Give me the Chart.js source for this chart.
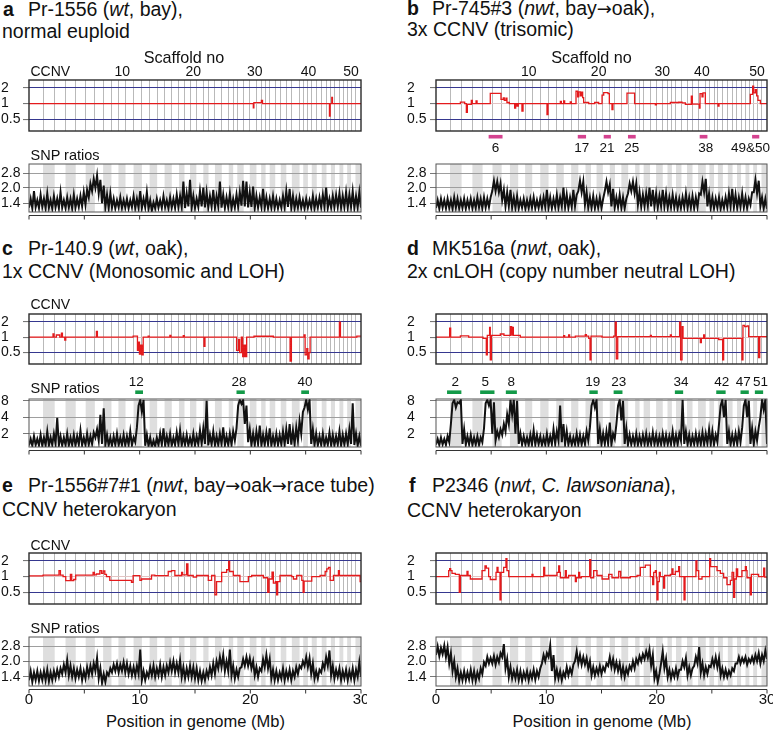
<!DOCTYPE html>
<html>
<head>
<meta charset="utf-8">
<script src="https://cdn.jsdelivr.net/npm/chart.js@4.4.1/dist/chart.umd.min.js"></script>
<style>
html, body { margin: 0; padding: 0; background: #fff; }
body { width: 778px; height: 731px; position: relative; overflow: hidden;
       font-family: "Liberation Sans", Arial, sans-serif; color: #111; }
canvas { position: absolute; }
.t { position: absolute; line-height: 1; white-space: nowrap; }
.ar { font-family: "DejaVu Sans", sans-serif; font-size: 0.92em; }
</style>
</head>
<body>
<script>
// scaffold ends along the genome (Mb), scaffolds 1..52
const scaffoldEnds = [1.27, 2.32, 3.30, 4.22, 5.12, 5.95, 6.70, 7.45, 8.08, 8.72,
  9.45, 10.20, 10.90, 11.58, 12.25, 12.90, 13.55, 14.05, 14.55, 15.12,
  15.75, 16.22, 16.80, 17.42, 18.05, 18.45, 18.82, 19.40, 19.95, 20.55,
  20.98, 21.38, 21.75, 22.25, 22.75, 23.25, 23.75, 24.45, 24.78, 25.20,
  25.55, 26.00, 26.45, 26.88, 27.28, 27.65, 28.05, 28.40, 28.75, 29.10,
  29.50, 30.00];

const scaffoldNums = [10, 20, 30, 40, 50];
const scaffoldNumPosA = [8.43, 14.84, 20.4, 25.25, 29.1];
const scaffoldNumPosB = [8.4, 14.74, 20.5, 24.1, 29.1];

const ccnvTicks = [0.5, 1, 2];
const ccnvTickLabels = ['0.5', '1', '2'];
const snpTicks = [1.4, 2.0, 2.8];
const snpTickLabels = ['1.4', '2.0', '2.8'];
const lohTicks = [2, 4, 8];
const lohTickLabels = ['2', '4', '8'];

// CCNV step traces: segment start (Mb) and ratio
const ccnvA_x = [0, 20.27, 20.32, 21.0, 21.1, 27.15, 27.21, 27.36, 27.42, 30];
const ccnvA_y = [1, 0.83, 1.04, 1.15, 1, 0.58, 1, 1.32, 1, 1];

const ccnvB_x = [0, 2.21, 2.6, 2.75, 2.84, 3.2, 3.29, 3.63, 3.72, 4.92, 5.89, 6.1, 6.19, 6.34, 6.43, 6.65, 7.13, 7.22, 7.34, 7.46,
  7.79, 7.89, 10.06, 10.15, 11.27, 11.36, 11.57, 11.66, 12.17, 12.27, 12.69, 12.84, 12.93, 13.08, 13.17, 13.29, 13.38, 13.84, 14.38, 14.74,
  15.05, 15.2, 15.59, 15.71, 15.95, 16.04, 17.31, 18.0, 19.88, 19.97, 21.24, 21.99, 22.3, 22.6, 23.14, 23.23, 23.87, 23.93, 24.11, 24.2,
  24.41, 25.56, 25.65, 28.49, 28.7, 28.79, 28.94, 29.06, 29.18, 29.4, 30];
const ccnvB_y = [1, 1.07, 1.0, 0.68, 0.97, 1.15, 1.0, 1.13, 1.0, 1.57, 1.2, 1.28, 1.15, 1.27, 1.05, 1.0, 0.82, 1.0, 0.9, 1.0,
  0.72, 1.0, 0.62, 1.0, 1.1, 1.0, 1.12, 1.0, 1.08, 1.0, 1.72, 1.35, 1.68, 1.4, 1.65, 1.3, 1.05, 1.0, 1.05, 1.0,
  1.45, 1.62, 1.55, 1.0, 0.77, 1.0, 1.58, 1.0, 0.95, 1.0, 1.05, 1.06, 1.03, 0.97, 1.38, 0.98, 0.82, 1.55, 1.35, 1.6,
  1.0, 0.9, 1.0, 1.5, 2.15, 1.6, 1.85, 1.4, 1.15, 1.0, 1.0];

const ccnvC_x = [0, 2.17, 2.26, 2.47, 2.78, 2.93, 3.02, 3.23, 3.32, 6.09, 6.18, 9.41, 9.8, 9.89, 9.98, 10.1, 10.2, 10.32, 10.77, 10.86,
  12.73, 12.82, 13.94, 14.03, 15.81, 15.9, 18.76, 18.94, 19.03, 19.19, 19.31, 19.43, 19.55, 19.67, 20.33, 22.08, 23.59, 23.71, 24.86, 24.95,
  25.1, 25.19, 25.31, 25.4, 28.05, 28.14, 29.62, 30];
const ccnvC_y = [1, 1.15, 1.0, 1.1, 1.0, 1.2, 1.0, 0.88, 1.0, 1.3, 1.0, 1.05, 0.55, 0.8, 0.47, 0.7, 0.45, 1.0, 1.05, 1.0,
  1.08, 1.0, 1.07, 1.0, 0.66, 1.0, 0.55, 0.9, 0.5, 1.0, 0.42, 0.7, 0.42, 1.0, 1.04, 1.0, 0.34, 1.0, 1.1, 0.45,
  0.6, 0.38, 0.5, 1.0, 1.95, 1.0, 1.05, 1.05];

const ccnvD_x = [0, 1.24, 1.33, 2.21, 2.96, 4.26, 4.56, 4.65, 4.86, 4.92, 5.02, 5.83, 5.98, 6.16, 6.74, 6.86, 6.92, 7.01, 7.64, 11.57,
  11.66, 12.02, 12.11, 12.63, 13.53, 13.63, 13.84, 13.96, 14.05, 15.05, 16.1, 16.25, 16.34, 16.47, 19.43, 19.52, 21.24, 21.33, 22.08, 22.17,
  22.3, 22.39, 23.96, 24.05, 24.26, 24.35, 25.62, 25.98, 26.07, 27.73, 27.82, 27.98, 28.19, 28.34, 29.24, 29.34, 30];
const ccnvD_y = [1, 1.5, 1.0, 1.06, 1.0, 0.95, 0.45, 1.08, 1.55, 0.36, 1.08, 1.15, 1.15, 1.08, 1.6, 1.1, 1.55, 1.08, 1.0, 1.07,
  1.0, 1.1, 1.0, 1.05, 1.12, 1.05, 0.95, 0.36, 1.05, 1.0, 1.05, 1.95, 0.38, 1.02, 1.08, 1.02, 1.1, 1.02, 1.95, 0.36,
  1.6, 0.95, 0.78, 0.95, 1.1, 0.95, 0.9, 0.36, 0.95, 0.36, 1.7, 1.6, 1.65, 1.02, 0.4, 1.02, 1.02];

const ccnvE_x = [0, 1.27, 2.71, 2.84, 3.08, 3.32, 3.74, 3.86, 4.04, 4.22, 5.79, 5.91, 6.09, 6.4, 6.55, 6.7, 6.85, 7.0, 7.3, 9.26,
  9.41, 10.02, 10.17, 11.07, 11.37, 12.58, 12.88, 13.18, 13.79, 13.88, 14.24, 14.36, 14.84, 15.14, 16.2, 16.5, 16.8, 16.95, 17.41, 17.86,
  18.04, 18.13, 18.46, 19.06, 19.82, 20.12, 21.18, 21.57, 21.69, 21.96, 22.08, 22.26, 22.38, 22.47, 22.68, 23.74, 23.89, 24.19, 24.65, 24.77,
  24.86, 25.55, 26.3, 26.76, 26.91, 27.06, 27.21, 27.51, 27.96, 28.05, 29.92, 30];
const ccnvE_y = [1.03, 1.07, 1.3, 1.07, 1.0, 0.84, 1.1, 0.84, 0.88, 1.07, 1.2, 1.08, 1.12, 1.3, 1.15, 1.28, 1.1, 1.0, 0.85, 0.78,
  1.04, 0.85, 0.9, 1.07, 1.04, 1.25, 1.3, 1.05, 1.2, 1.08, 1.75, 1.05, 0.98, 1.05, 0.85, 1.05, 0.45, 0.8, 1.2, 1.35,
  1.95, 1.25, 1.05, 0.8, 1.0, 1.05, 0.95, 0.5, 0.9, 1.22, 0.75, 0.8, 0.45, 0.8, 1.05, 1.0, 0.9, 1.05, 0.85, 0.5,
  0.82, 1.0, 1.05, 1.25, 1.4, 1.5, 0.85, 1.05, 1.3, 1.05, 0.8, 0.8];

const ccnvF_x = [0, 1.15, 1.24, 1.33, 1.45, 1.75, 2.11, 2.21, 2.81, 2.9, 3.11, 4.17, 4.44, 4.56, 4.77, 4.92, 5.44, 5.53, 5.62, 5.8,
  5.89, 6.13, 6.34, 6.43, 6.59, 8.7, 8.79, 9.76, 9.85, 10.97, 11.12, 11.21, 11.27, 11.72, 11.81, 12.02, 12.63, 12.72, 12.93, 13.02,
  13.17, 13.93, 14.02, 14.29, 14.59, 15.05, 15.65, 15.95, 16.56, 16.74, 17.61, 18.22, 18.52, 18.97, 19.43, 19.64, 19.73, 19.88, 19.97, 20.03,
  20.12, 20.24, 20.33, 20.63, 20.72, 21.24, 21.39, 21.48, 21.69, 21.99, 22.08, 22.48, 22.57, 23.56, 23.65, 23.81, 24.11, 24.8, 24.89, 25.47,
  25.77, 26.07, 26.37, 26.68, 26.83, 26.98, 27.07, 27.22, 27.34, 27.73, 28.04, 28.13, 28.19, 28.49, 28.58, 29.24, 29.7, 29.79, 30];
const ccnvF_y = [1.0, 1.3, 1.42, 1.3, 1.15, 1.1, 0.5, 1.05, 1.25, 1.05, 0.9, 1.3, 1.6, 1.45, 1.0, 0.88, 1.2, 1.5, 1.2, 0.36,
  1.2, 1.5, 2.2, 1.3, 1.0, 1.1, 1.0, 1.5, 1.05, 1.2, 1.6, 1.2, 0.95, 1.3, 0.95, 1.05, 0.8, 0.95, 1.2, 0.95,
  1.0, 2.1, 0.95, 1.3, 1.05, 0.9, 1.1, 0.95, 1.25, 0.95, 1.0, 1.05, 1.5, 1.65, 1.0, 0.7, 1.2, 1.3, 0.95, 0.36,
  0.8, 1.2, 1.0, 0.6, 1.05, 1.1, 1.4, 1.1, 1.25, 1.55, 1.0, 0.36, 1.0, 2.0, 1.3, 0.9, 1.0, 2.2, 1.55, 1.3,
  1.15, 0.95, 0.7, 0.85, 1.2, 0.4, 0.9, 1.4, 1.0, 1.3, 1.55, 1.3, 0.95, 0.45, 1.1, 1.0, 1.45, 0.98, 0.98];

// SNP ratio traces, lower and upper edge of the noisy band, one pair every 0.3 Mb
const snpStep = 0.3;
const snpA_lo = [1.26,1.24,1.27,1.25,1.28,1.25,1.26,1.24,1.27,1.25,
  1.26,1.25,1.27,1.24,1.26,1.28,1.3,1.35,1.6,1.85,
  2.0,1.75,1.4,1.27,1.25,1.26,1.24,1.27,1.25,1.26,
  1.24,1.27,1.25,1.26,1.25,1.27,1.22,1.18,1.24,1.26,
  1.25,1.27,1.24,1.26,1.25,1.27,1.28,1.25,1.3,1.26,
  1.25,1.28,1.3,1.27,1.26,1.28,1.25,1.3,1.26,1.25,
  1.27,1.24,1.26,1.28,1.32,1.3,1.27,1.28,1.25,1.26,
  1.28,1.25,1.24,1.26,1.25,1.24,1.26,1.27,1.28,1.25,
  1.24,1.26,1.25,1.24,1.26,1.25,1.24,1.26,1.27,1.28,
  1.25,1.26,1.27,1.28,1.26,1.27,1.26,1.28,1.25,1.27,1.26];
const snpA_hi = [1.55,1.85,1.5,1.7,1.55,1.75,1.5,1.65,1.55,1.8,
  1.5,1.6,1.55,1.7,1.55,1.65,1.8,1.9,2.2,2.45,
  2.65,2.4,2.1,1.7,1.75,1.55,1.5,1.6,1.5,1.55,
  1.5,1.65,1.55,1.85,1.55,1.8,1.5,1.42,1.55,1.5,
  1.65,1.5,1.6,1.55,1.7,1.65,2.3,1.75,2.4,1.65,
  1.55,1.85,2.0,1.8,1.65,1.9,1.65,2.3,1.7,1.6,
  1.75,1.55,1.7,1.8,2.35,2.3,1.8,2.05,1.65,1.6,
  1.95,1.6,1.55,1.65,1.55,1.5,1.65,1.85,1.95,1.65,
  1.55,1.6,1.5,1.55,1.5,1.65,1.55,1.6,1.7,2.0,
  1.55,1.65,1.7,1.75,1.65,1.8,1.7,1.85,1.65,1.8,1.6];

const snpB_lo = [1.25,1.23,1.26,1.24,1.25,1.23,1.26,1.24,1.25,1.23,
  1.26,1.24,1.25,1.27,1.24,1.26,1.28,1.85,1.85,1.8,
  1.5,1.3,1.3,1.26,1.25,1.24,1.26,1.23,1.25,1.26,
  1.24,1.25,1.26,1.28,1.25,1.24,1.27,1.26,1.3,1.27,
  1.25,1.28,1.3,1.85,1.8,1.35,1.26,1.25,1.24,1.26,
  1.25,1.85,1.8,1.3,1.26,1.27,1.25,1.24,1.75,1.85,
  1.75,1.35,1.28,1.3,1.32,1.3,1.28,1.26,1.3,1.28,
  1.25,1.27,1.26,1.24,1.25,1.27,1.25,1.26,1.24,1.27,
  1.7,1.8,1.3,1.25,1.24,1.26,1.23,1.25,1.27,1.3,
  1.27,1.25,1.28,1.26,1.25,1.35,1.8,1.75,1.3,1.24,1.23];
const snpB_hi = [1.5,1.55,1.5,1.55,1.5,1.6,1.55,1.5,1.55,1.5,
  1.55,1.5,1.6,1.55,1.6,1.55,1.6,2.35,2.3,2.2,
  1.9,1.8,1.9,1.6,1.65,1.5,1.55,1.5,1.55,1.6,
  1.5,1.55,1.6,1.9,1.6,1.55,1.7,1.6,2.0,1.7,
  1.6,1.9,1.7,2.35,2.3,1.8,1.6,1.65,1.55,1.6,
  1.55,2.3,2.15,1.95,1.6,1.7,1.6,1.55,2.2,2.3,
  2.2,1.8,1.7,1.75,2.0,1.9,1.75,1.65,1.9,1.75,
  1.6,1.7,1.6,1.55,1.6,1.75,1.6,1.65,1.6,1.75,
  2.3,2.45,1.75,1.6,1.55,1.6,1.5,1.6,1.75,1.95,
  1.7,1.6,1.75,1.6,1.55,1.8,2.4,2.35,1.6,1.55,1.5];

const snpC_lo = [1.22,1.2,1.24,1.22,1.2,1.23,1.22,1.25,1.3,1.22,
  1.2,1.23,1.22,1.24,1.21,1.25,1.22,1.24,1.26,1.3,
  1.7,1.5,1.3,1.24,1.22,1.2,1.23,1.22,1.24,1.21,
  1.23,1.22,1.4,6.5,5.0,1.2,1.18,1.14,1.18,1.22,
  1.24,1.22,1.25,1.21,1.23,1.26,1.22,1.24,1.21,1.25,
  1.22,1.26,1.28,1.3,1.22,1.25,1.22,1.24,1.28,1.22,
  1.24,1.26,1.5,6.5,7.0,3.0,1.4,1.24,1.25,1.28,
  1.22,1.25,1.27,1.22,1.24,1.23,1.26,1.27,1.3,1.26,
  1.28,1.5,2.0,6.0,5.5,1.3,1.24,1.22,1.24,1.21,
  1.25,1.22,1.21,1.25,1.22,1.24,1.26,1.3,1.24,1.22,1.2];
const snpC_hi = [1.6,1.8,1.6,1.9,1.7,2.2,1.7,2.0,3.9,1.8,
  1.7,2.0,1.7,1.9,1.8,2.3,1.7,2.0,1.8,2.1,
  2.4,4.4,5.8,1.9,1.7,1.8,2.0,1.7,1.9,1.8,
  2.2,1.7,2.6,8.3,8.3,1.9,1.7,1.5,1.7,2.0,
  2.5,1.8,2.0,1.7,2.1,2.3,1.8,1.9,1.7,2.0,
  1.8,2.3,2.5,8.0,1.9,2.2,1.8,2.0,2.6,1.8,
  2.0,2.2,2.5,8.3,8.3,6.5,2.4,2.0,2.2,2.8,
  1.9,2.1,2.5,1.8,2.0,1.9,2.2,2.4,3.0,2.3,
  2.6,3.4,5.0,8.3,8.3,2.4,2.0,1.8,2.0,1.7,
  2.1,1.9,1.8,2.2,1.9,2.0,2.4,7.2,2.0,1.8,1.6];

const snpD_lo = [1.26,1.24,1.27,1.25,1.4,7.2,6.0,7.2,1.3,1.25,
  1.27,1.24,1.26,1.25,1.4,7.2,6.5,2.0,1.5,1.7,
  1.9,2.2,3.0,4.5,2.0,1.3,1.25,1.27,1.24,1.26,
  1.25,1.27,1.24,1.26,1.25,1.28,1.3,1.5,1.4,1.27,
  1.25,1.24,1.27,1.26,1.25,1.28,1.5,6.5,6.0,1.3,
  1.27,1.28,1.3,1.26,1.6,6.5,3.5,1.3,1.25,1.26,
  1.27,1.25,1.26,1.28,1.25,1.27,1.26,1.24,1.27,1.25,
  1.26,1.28,1.25,1.27,1.5,1.3,1.26,1.25,1.27,1.26,
  1.28,1.27,1.3,1.28,1.26,1.4,6.5,4.0,1.3,1.26,
  1.27,1.28,1.4,6.5,4.0,1.3,1.27,1.5,4.0,5.5,1.3];
const snpD_hi = [1.6,1.7,1.6,1.8,3.0,8.3,7.5,8.3,2.4,1.8,
  1.9,1.7,1.8,1.7,2.5,8.3,8.3,7.5,2.2,2.4,
  3.0,4.5,8.3,8.3,8.0,2.0,1.8,1.7,1.9,2.3,
  1.9,1.8,1.7,2.0,1.8,2.4,2.2,6.5,3.0,2.2,
  1.8,1.7,2.0,1.9,1.8,2.2,2.6,8.3,8.3,2.4,
  2.0,2.2,3.2,2.0,3.0,8.3,8.0,2.5,1.9,1.8,
  2.0,1.8,1.9,2.0,1.8,2.1,1.9,1.8,2.0,1.9,
  1.8,2.2,1.9,2.0,8.3,2.2,1.9,1.8,2.0,1.9,
  2.1,2.0,2.4,2.2,1.9,3.0,8.3,8.3,2.2,1.9,
  2.0,2.2,2.6,8.3,8.0,2.5,2.2,2.6,8.3,8.3,1.8];

const snpE_lo = [1.3,1.25,1.3,1.28,1.3,1.3,1.27,1.3,1.35,1.4,
  1.5,1.55,1.45,1.4,1.35,1.4,1.3,1.35,1.45,1.5,
  1.6,1.35,1.22,1.25,1.45,1.55,1.6,1.55,1.6,1.55,
  1.5,1.45,1.45,1.5,1.3,1.3,1.4,1.45,1.4,1.45,
  1.4,1.45,1.55,1.6,1.55,1.55,1.4,1.35,1.4,1.4,
  1.35,1.3,1.28,1.3,1.4,1.45,1.5,1.7,1.75,1.6,
  1.6,1.45,1.35,1.4,1.75,1.8,1.8,1.7,1.45,1.4,
  1.6,1.75,1.7,1.35,1.3,1.3,1.35,1.3,1.35,1.3,
  1.4,1.5,1.7,1.8,1.75,1.5,1.35,1.35,1.55,1.7,
  1.8,1.45,1.35,1.4,1.3,1.35,1.3,1.35,1.3,1.4,1.4];
const snpE_hi = [1.6,1.55,1.6,1.55,1.6,1.65,1.55,1.6,1.65,1.7,
  1.85,2.05,1.8,1.7,1.65,1.7,1.6,1.75,1.8,1.9,
  2.15,1.7,1.5,1.55,1.7,1.85,1.9,1.85,1.95,1.9,
  1.8,1.75,1.8,2.6,1.6,1.55,1.75,1.8,1.7,1.85,
  1.75,1.8,1.95,2.0,1.9,2.05,1.75,1.7,1.8,1.75,
  1.7,1.6,1.55,1.6,1.75,1.9,2.0,2.2,2.3,2.0,
  2.6,1.8,1.65,1.7,2.1,2.2,2.15,2.0,1.75,1.7,
  2.1,2.3,2.1,1.65,1.6,1.55,1.7,1.6,1.65,1.6,
  1.75,1.8,2.0,2.2,2.15,1.9,1.6,1.65,1.9,2.2,
  2.55,1.8,1.65,1.7,1.6,1.65,1.6,1.7,1.65,1.95,1.7];

const snpF_lo = [2.3,2.25,2.35,2.2,1.9,1.6,1.4,1.28,1.3,1.3,
  1.32,1.3,1.28,1.35,1.5,1.8,1.9,1.9,1.85,1.95,
  2.2,1.7,1.4,1.35,1.35,1.3,1.28,1.35,1.3,1.35,
  1.32,1.4,1.9,2.0,2.2,1.6,1.35,1.35,1.3,1.4,
  1.45,1.5,2.0,1.9,1.85,1.85,1.7,1.45,1.45,1.5,
  1.5,1.6,1.8,1.75,1.65,1.6,1.45,1.4,1.5,1.65,
  1.7,1.9,2.0,2.1,2.15,1.8,1.35,1.25,1.9,1.7,
  1.4,1.35,1.4,1.4,1.65,1.75,1.45,1.45,1.8,1.9,
  1.55,1.45,1.5,1.75,1.8,1.75,1.45,1.4,1.4,1.45,
  1.6,1.9,1.9,1.95,1.85,1.95,1.95,2.0,1.9,2.0,2.1];
const snpF_hi = [2.8,2.7,2.85,2.75,2.4,2.0,1.7,1.55,1.6,1.55,
  1.65,1.6,1.55,1.7,1.95,2.2,2.15,2.25,2.2,2.4,
  2.95,2.1,1.75,1.6,1.65,1.6,1.55,1.6,1.55,1.65,
  1.6,1.7,2.3,2.4,2.85,2.3,1.65,1.6,1.55,1.75,
  1.7,1.85,2.5,2.3,2.2,2.15,2.0,1.75,1.7,1.8,
  1.75,1.9,2.2,2.1,1.95,1.9,1.75,1.7,1.8,2.0,
  2.1,2.25,2.35,2.5,2.6,2.3,1.6,1.5,2.5,2.1,
  1.65,1.6,1.7,1.65,2.0,2.15,1.75,1.7,2.2,2.75,
  1.9,1.75,1.8,2.1,2.2,2.15,1.7,1.65,1.6,1.7,
  1.9,2.2,2.15,2.2,2.1,2.2,2.3,2.4,2.3,2.55,2.85];

// marked scaffolds (Mb ranges) and their labels
const pinkStart = [4.77, 12.85, 15.2, 17.4, 23.9, 28.65];
const pinkEnd = [6.03, 13.6, 15.85, 18.1, 24.6, 29.3];
const pinkLabel = ['6', '17', '21', '25', '38', '49&50'];
const pinkLabelX = [5.4, 13.22, 15.5, 17.75, 24.45, 28.5];

const greenC_start = [9.6, 18.75, 24.6];
const greenC_end = [10.3, 19.5, 25.3];
const greenC_label = ['12', '28', '40'];
const greenC_labelX = [9.7, 18.97, 24.95];

const greenD_start = [1.0, 4.0, 6.33, 13.9, 16.1, 21.65, 25.4, 27.6, 28.9];
const greenD_end = [2.3, 5.3, 7.33, 14.66, 16.9, 22.4, 26.25, 28.35, 29.65];
const greenD_label = ['2', '5', '8', '19', '23', '34', '42', '47', '51'];
const greenD_labelX = [1.75, 4.47, 6.83, 14.2, 16.56, 22.2, 25.9, 27.85, 29.42];

const FONT = '"Liberation Sans", Arial, sans-serif';
Chart.defaults.font.family = FONT;
Chart.defaults.font.size = 14;
Chart.defaults.color = '#111';

const extras = {
  id: 'extras',
  beforeDraw(chart, args, o) {
    if (!o.shade) return;
    const ctx = chart.ctx, a = chart.chartArea, x = chart.scales.x;
    ctx.save();
    ctx.fillStyle = '#dedede';
    for (let j = 1; j < scaffoldEnds.length; j += 2) {
      const p0 = x.getPixelForValue(scaffoldEnds[j - 1]);
      const p1 = x.getPixelForValue(scaffoldEnds[j]);
      ctx.fillRect(p0, a.top, p1 - p0, a.bottom - a.top);
    }
    ctx.restore();
  },
  afterDraw(chart, args, o) {
    const ctx = chart.ctx, a = chart.chartArea, x = chart.scales.x;
    ctx.save();
    ctx.strokeStyle = o.frameColor;
    ctx.lineWidth = o.frameWidth;
    ctx.strokeRect(a.left, a.top, a.right - a.left, a.bottom - a.top);
    if (o.axisGap) {
      // x axis line set a little below the plot box, ticks hanging from it
      const ya = Math.round(a.bottom + o.axisGap) + 0.5;
      ctx.strokeStyle = '#333';
      ctx.lineWidth = 1;
      ctx.beginPath();
      ctx.moveTo(x.getPixelForValue(0), ya);
      ctx.lineTo(x.getPixelForValue(30), ya);
      x.ticks.forEach(t => {
        const px = x.getPixelForValue(t.value);
        ctx.moveTo(px, ya);
        ctx.lineTo(px, ya + 4);
      });
      ctx.stroke();
    }
    ctx.fillStyle = '#111';
    ctx.textAlign = 'center';
    ctx.textBaseline = 'alphabetic';
    if (o.topPos) {
      ctx.font = '14px ' + FONT;
      for (let i = 0; i < scaffoldNums.length; i++) {
        ctx.fillText(String(scaffoldNums[i]), x.getPixelForValue(o.topPos[i]), a.top - 4);
      }
    }
    if (o.marks) {
      const m = o.marks;
      const yBar = m.below ? a.bottom + 5.7 : a.top - 6.8;
      const yTxt = m.below ? a.bottom + 20.7 : a.top - 12.6;
      ctx.font = '13.5px ' + FONT;
      for (let i = 0; i < m.start.length; i++) {
        const p0 = x.getPixelForValue(m.start[i]), p1 = x.getPixelForValue(m.end[i]);
        ctx.fillStyle = m.color;
        ctx.fillRect(p0, yBar - 1.8, p1 - p0, 3.6);
        ctx.fillStyle = '#111';
        ctx.fillText(m.label[i], x.getPixelForValue(m.labelX[i]), yTxt);
      }
    }
    ctx.restore();
  }
};

function makeCanvas(left, top, w, h) {
  const c = document.createElement('canvas');
  c.width = w; c.height = h;
  c.style.left = left + 'px'; c.style.top = top + 'px';
  c.style.width = w + 'px'; c.style.height = h + 'px';
  document.body.appendChild(c);
  return c;
}

const LEFT = { colX: 0, l: 29, r: 361 };
const RIGHT = { colX: 406, l: 436, r: 767 };

function track(col, t, b, padTop, padBottom, xAxisH, scales, datasets, extra) {
  const top = t - padTop;
  const w = col.r - col.colX + 6;
  const h = b - top + padBottom;
  const cv = makeCanvas(col.colX, top, w, h);
  scales.y.afterFit = s => { s.width = col.l - col.colX - 1; s.paddingTop = 0; s.paddingBottom = 0; };
  scales.x.afterFit = s => { s.height = xAxisH; s.paddingLeft = 0; s.paddingRight = 0; };
  return new Chart(cv, {
    type: 'line',
    data: { datasets: datasets },
    options: {
      responsive: false,
      animation: false,
      events: [],
      layout: { padding: { left: 1, right: 6, top: padTop, bottom: padBottom - xAxisH } },
      scales: scales,
      plugins: { legend: { display: false }, tooltip: { enabled: false }, extras: extra }
    },
    plugins: [extras]
  });
}

function ccnv(col, t, b, xs, ys, padTop, padBottom, extra) {
  const scales = {
    x: {
      type: 'linear', min: 0, max: 30,
      afterBuildTicks: s => { s.ticks = scaffoldEnds.slice(0, -1).map(v => ({ value: v })); },
      ticks: { display: false, autoSkip: false },
      grid: { color: '#b9b9b9', lineWidth: 1, drawTicks: false },
      border: { display: false }
    },
    y: {
      type: 'logarithmic', min: 0.34, max: 2.82,
      afterBuildTicks: s => { s.ticks = ccnvTicks.map(v => ({ value: v })); },
      ticks: { callback: (v, i) => ccnvTickLabels[i], crossAlign: 'far', padding: 0, autoSkip: false },
      grid: { color: c => (c.tick && c.tick.value === 1) ? '#e2c4c4' : '#35378f', lineWidth: 1.1, tickLength: 6, tickColor: '#777' },
      border: { display: false }
    }
  };
  const data = [{
    data: xs.map((x, i) => ({ x: x, y: ys[i] })),
    borderColor: '#e41a1c', borderWidth: 1.3, pointRadius: 0, stepped: true, fill: false
  }];
  return track(col, t, b, padTop, padBottom, 0, scales, data,
    Object.assign({ frameColor: '#2a2a2a', frameWidth: 1.4 }, extra));
}

function zigzag(lo, hi) {
  const pts = [];
  for (let i = 0; i < lo.length; i++) {
    pts.push({ x: i * snpStep, y: lo[i] });
    pts.push({ x: i * snpStep + snpStep / 2, y: hi[i] });
  }
  return pts;
}

function snp(col, t, b, lo, hi, loh, showX, padTop, extra) {
  const tk = loh ? lohTicks : snpTicks;
  const tl = loh ? lohTickLabels : snpTickLabels;
  const xAxisH = showX ? 24 : 8;
  const scales = {
    x: {
      type: 'linear', min: 0, max: 30,
      ticks: { stepSize: 5, autoSkip: false, maxRotation: 0, display: showX,
               callback: v => (v % 10 === 0 ? String(v) : ''), font: { size: 15 }, padding: -2 },
      grid: { display: false, drawOnChartArea: false, tickLength: 7 },
      border: { display: false }
    },
    y: {
      type: 'logarithmic', min: 1.14, max: loh ? 8.6 : 3.46,
      afterBuildTicks: s => { s.ticks = tk.map(v => ({ value: v })); },
      ticks: { callback: (v, i) => tl[i], crossAlign: 'far', padding: 0, autoSkip: false },
      grid: { color: '#9e9e9e', lineWidth: 1, tickLength: 6, tickColor: '#777' },
      border: { display: false }
    }
  };
  const data = [{
    data: zigzag(lo, hi),
    borderColor: '#111', borderWidth: 2.0, pointRadius: 0, tension: 0, fill: false
  }];
  return track(col, t, b, padTop, xAxisH + 2, xAxisH, scales, data,
    Object.assign({ shade: true, frameColor: '#555', frameWidth: 1, axisGap: 2.5 }, extra));
}

function txt(html, x, base, size, center) {
  const d = document.createElement('div');
  d.className = 't';
  d.innerHTML = html;
  d.style.fontSize = size + 'px';
  d.style.left = x + 'px';
  d.style.top = (base - size * 0.8465) + 'px';
  if (center) d.style.transform = 'translateX(-50%)';
  document.body.appendChild(d);
}

// panel a
ccnv(LEFT, 80, 131, ccnvA_x, ccnvA_y, 18, 4, { topPos: scaffoldNumPosA });
snp(LEFT, 164, 212, snpA_lo, snpA_hi, false, false, 4, {});
// panel b
ccnv(RIGHT, 80, 131, ccnvB_x, ccnvB_y, 18, 26, { topPos: scaffoldNumPosB,
  marks: { below: true, color: '#d4428f', start: pinkStart, end: pinkEnd, label: pinkLabel, labelX: pinkLabelX } });
snp(RIGHT, 164, 212, snpB_lo, snpB_hi, false, false, 4, {});
// panel c
ccnv(LEFT, 314, 364, ccnvC_x, ccnvC_y, 4, 4, {});
snp(LEFT, 399, 447, snpC_lo, snpC_hi, true, false, 24,
  { marks: { below: false, color: '#139a48', start: greenC_start, end: greenC_end, label: greenC_label, labelX: greenC_labelX } });
// panel d
ccnv(RIGHT, 314, 364, ccnvD_x, ccnvD_y, 4, 4, {});
snp(RIGHT, 399, 447, snpD_lo, snpD_hi, true, false, 24,
  { marks: { below: false, color: '#139a48', start: greenD_start, end: greenD_end, label: greenD_label, labelX: greenD_labelX } });
// panel e
ccnv(LEFT, 553, 604, ccnvE_x, ccnvE_y, 4, 4, {});
snp(LEFT, 637, 686, snpE_lo, snpE_hi, false, true, 4, {});
// panel f
ccnv(RIGHT, 553, 604, ccnvF_x, ccnvF_y, 4, 4, {});
snp(RIGHT, 637, 686, snpF_lo, snpF_hi, false, true, 4, {});

// titles and track labels
const TS = 19.5;
const AR = '<span class="ar">\u2192</span>';
txt('<b>a</b>', 3, 16.5, TS); txt('Pr-1556 (<i>wt</i>, bay),', 28, 16.5, TS); txt('normal euploid', 2, 38.5, TS);
txt('<b>b</b>', 407, 15.5, TS); txt('Pr-745#3 (<i>nwt</i>, bay' + AR + 'oak),', 432, 15.5, TS); txt('3x CCNV (trisomic)', 407, 37, TS);
txt('<b>c</b>', 2, 256, TS); txt('Pr-140.9 (<i>wt</i>, oak),', 28, 256, TS); txt('1x CCNV (Monosomic and LOH)', 2, 278.5, TS);
txt('<b>d</b>', 407, 255.5, TS); txt('MK516a (<i>nwt</i>, oak),', 432, 255.5, TS); txt('2x cnLOH (copy number neutral LOH)', 407, 278.5, TS);
txt('<b>e</b>', 2, 493, TS); txt('Pr-1556#7#1 (<i>nwt</i>, bay' + AR + 'oak' + AR + 'race tube)', 28, 493, TS); txt('CCNV heterokaryon', 2, 517, TS);
txt('<b>f</b>', 409, 493, TS); txt('P2346 (<i>nwt</i>, <i>C. lawsoniana</i>),', 432, 493, TS); txt('CCNV heterokaryon', 407, 518, TS);

txt('Scaffold no', 184, 63, 16.2, true);
txt('Scaffold no', 591.5, 63, 16.2, true);
txt('CCNV', 30.5, 76, 14); txt('CCNV', 30.5, 308.5, 14); txt('CCNV', 30.5, 549.5, 14);
txt('SNP ratios', 30.5, 160, 14.5); txt('SNP ratios', 30.5, 393.5, 14.5); txt('SNP ratios', 30.5, 633, 14.5);
txt('Position in genome (Mb)', 195.5, 727, 16.5, true);
txt('Position in genome (Mb)', 602, 727, 16.5, true);
</script>
</body>
</html>
